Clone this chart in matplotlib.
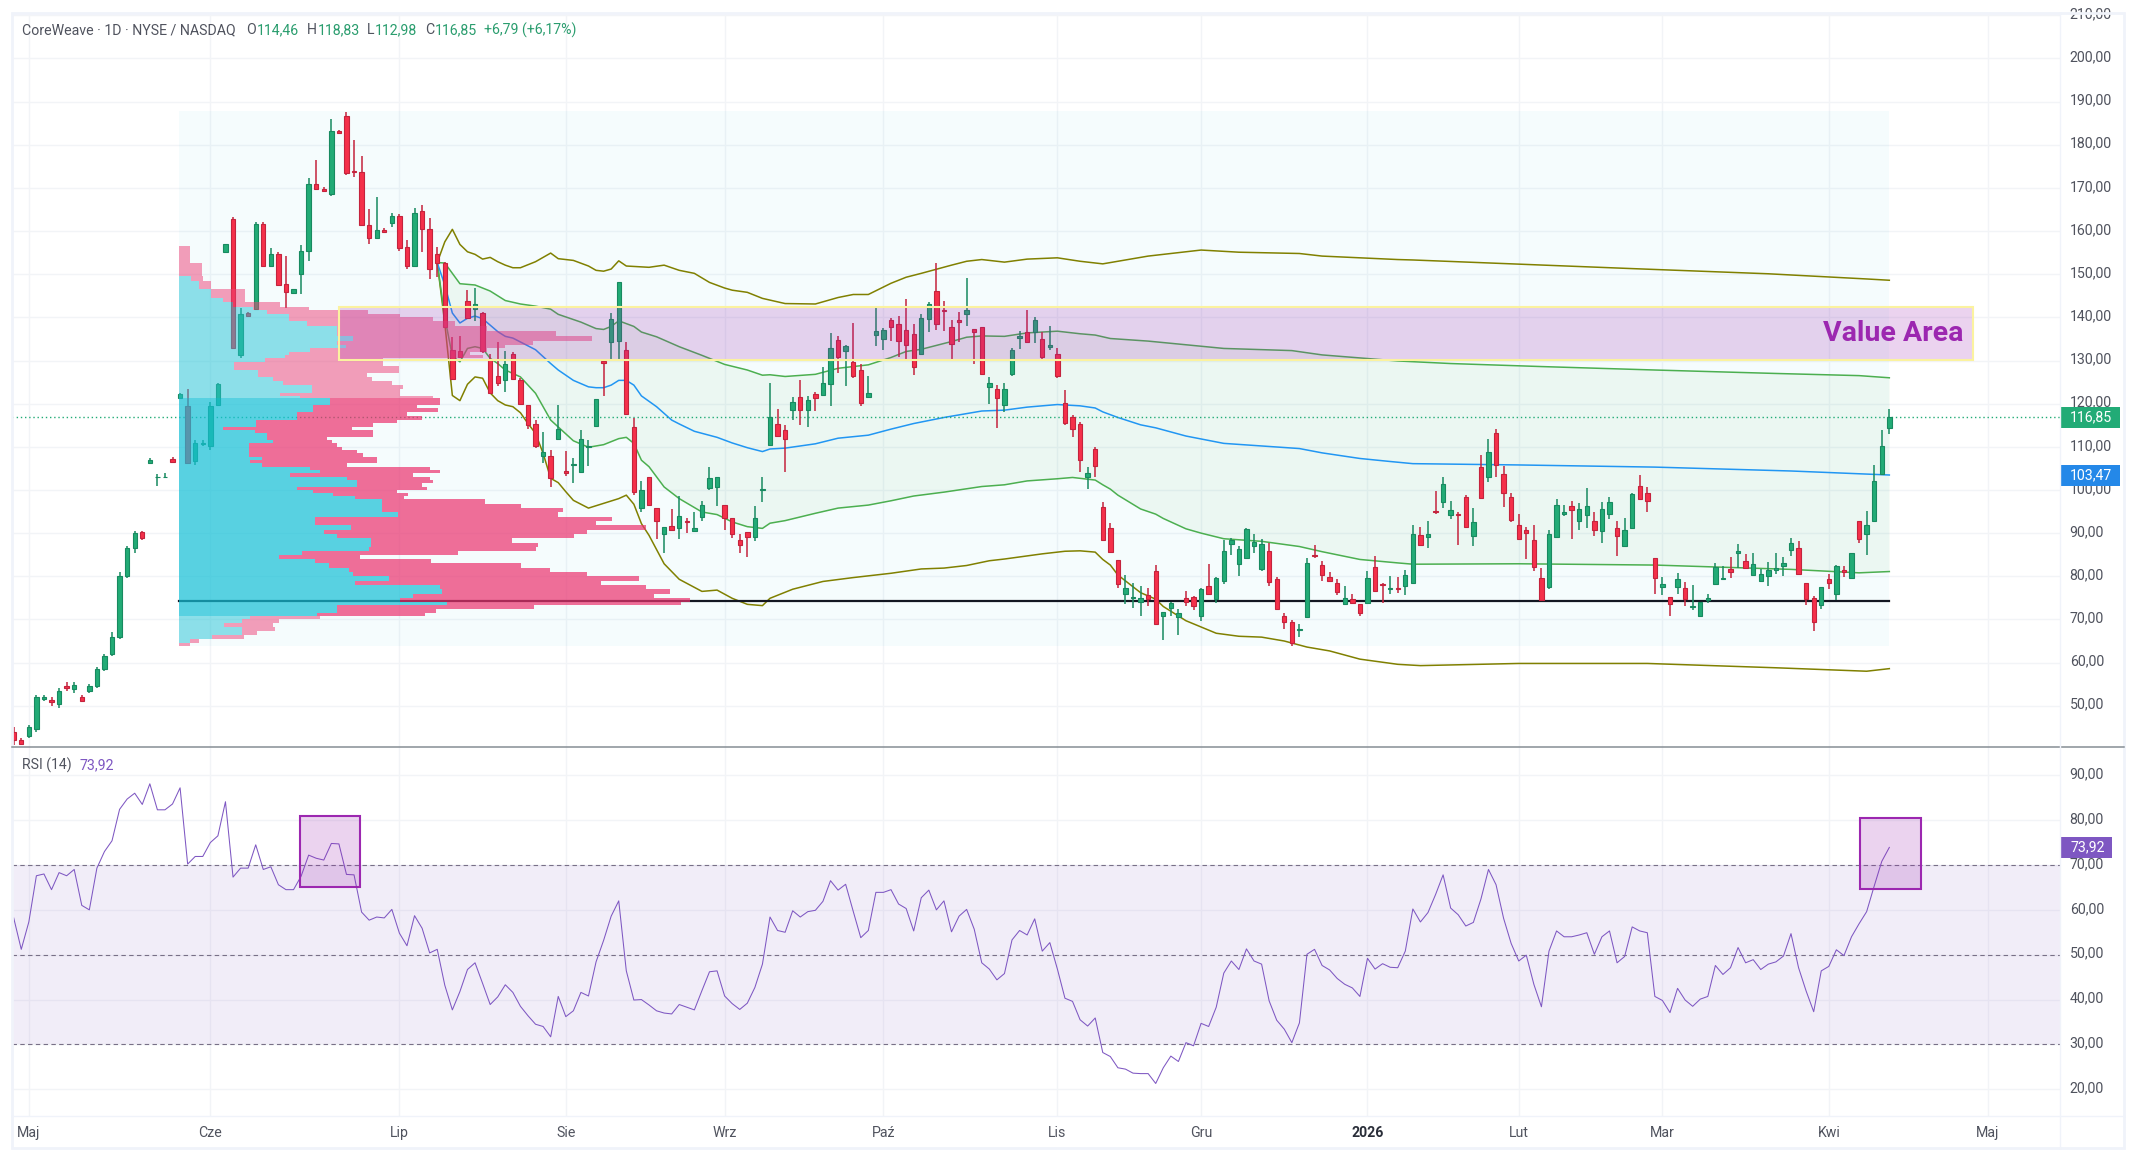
import numpy as np
import matplotlib
matplotlib.use('Agg')
import matplotlib.pyplot as plt
from matplotlib.patches import Rectangle
from matplotlib.lines import Line2D
from matplotlib.colors import to_rgba
from matplotlib.transforms import blended_transform_factory, ScaledTranslation

plt.rcParams['font.family'] = ['Roboto', 'DejaVu Sans']

# daily candles
opens = [44, 42, 43, 44.5, 51.5, 51.3, 50.5, 54.5, 53.8, 52,
         53.5, 54.5, 58.5, 62, 66, 80, 86.5, 90.3, 106.3, 102.9,
         102.9, 107.1, 121.2, 119.5, 106.8, 110.7, 110.3, 119.7, 155.2, 162.7,
         131.3, 140.9, 142, 161.6, 152, 154.7, 147.7, 145.7, 150.1, 155.4,
         171, 169.7, 168.6, 183.2, 186.6, 173.9, 173.6, 161.5, 158.5, 160.2,
         161.9, 163.6, 156.2, 152, 164.6, 160.4, 154.8, 152.5, 132.5, 132.1,
         143.7, 142, 141.1, 130.1, 126.5, 125.6, 131.6, 125.6, 119.6, 115.4,
         107.9, 107.8, 111.8, 104.3, 105.8, 104.2, 109.9, 114.9, 130, 134.4,
         134.6, 132.5, 114.5, 95.9, 102.9, 95.9, 89.7, 91.7, 91.1, 92.7,
         90.5, 93.8, 100.5, 100.7, 96.6, 93.6, 88.3, 90.2, 89, 100,
         110.5, 115.4, 113.8, 118.6, 121.5, 118.6, 122.2, 121.9, 124.5, 134.7,
         132.1, 129.6, 127.7, 121.5, 136, 135.1, 139.5, 138.4, 137, 136.1,
         131.6, 139.7, 146, 141.6, 137.7, 139.5, 140.8, 137.2, 137.7, 123.9,
         123.3, 119.8, 126.9, 135.3, 136.5, 136.7, 134.9, 133.2, 131.4, 120.1,
         116.8, 115.4, 102.9, 109.4, 96, 91.1, 83.7, 75.8, 75, 74,
         75.6, 81.2, 70.7, 72.7, 70.6, 74.9, 75.1, 70.7, 77.7, 74.8,
         78.8, 87.4, 82.8, 84.3, 87.1, 81.8, 85.8, 79.3, 70.7, 69.3,
         67.6, 70.5, 84.9, 82.5, 79.8, 78.4, 73.5, 74.7, 73.5, 73.7,
         82.1, 78.3, 77.1, 77.3, 77.8, 78.5, 89.5, 89.2, 95.1, 97.3,
         94.2, 94.4, 98.3, 89.4, 105.4, 103, 113.3, 103.8, 98.3, 91.8,
         90.8, 88.3, 79.7, 77.6, 89.2, 94.5, 96.2, 92.9, 94.2, 92.7,
         90.5, 94.5, 91.3, 87.1, 91.2, 101, 99.2, 84.2, 77.6, 75.1,
         77.6, 77.2, 72.9, 70.9, 74.4, 78.1, 79.4, 81.6, 85.3, 83.5,
         80.4, 78.8, 80, 81.5, 82.3, 86, 86.5, 78.4, 74.9, 73.3,
         79.3, 75.8, 81.4, 79.5, 92.7, 89.9, 92.9, 103.8, 114.46]
highs = [45, 42.5, 45.5, 52.5, 52.5, 52, 54, 55.5, 55.5, 52.5,
         55, 59, 62, 67, 81, 87, 90.5, 90.5, 107.5, 103.7,
         104, 107.7, 122.4, 123.3, 111.5, 111.6, 120.5, 124.8, 156.9, 163.2,
         142.1, 141.2, 162.2, 162, 156, 155.1, 154.2, 146.5, 156.8, 172.2,
         176.4, 170.2, 185.9, 183.4, 187.6, 181, 177.4, 165.1, 167.8, 160.7,
         164.2, 163.9, 157.9, 165.3, 166, 163, 156.3, 152.8, 135.4, 135.6,
         146.4, 146.7, 141.3, 131.6, 134.2, 132.3, 131.9, 125.9, 119.8, 116.3,
         113.4, 109.2, 119.6, 109, 107.5, 114, 111.5, 121, 130.2, 141.1,
         148.1, 134.4, 116.7, 102, 103.1, 95.9, 91.5, 95.7, 98.5, 93.4,
         94.8, 97.4, 105.4, 102.9, 96.6, 93.6, 89.8, 90.2, 96.2, 102.9,
         124.7, 118.8, 115, 121.5, 125.6, 121.8, 122.6, 128.6, 136.3, 135.6,
         133.6, 138.8, 129.1, 126.4, 142.6, 137.5, 139.8, 140.3, 144.2, 138.5,
         140.8, 143.6, 152.7, 143.8, 139.4, 141.2, 149.1, 137.2, 137.7, 126.2,
         124.3, 124.8, 133, 136.8, 141.6, 140.2, 136.5, 138.1, 132.9, 123.2,
         117.4, 115.7, 105.3, 110, 97.1, 92.4, 83.7, 80.3, 78.4, 77.8,
         77.4, 82.6, 71.7, 74.1, 72.4, 76.6, 75.4, 77.4, 82.9, 79.8,
         88.4, 88.9, 87, 91.2, 89.8, 88.6, 87.8, 79.8, 71.4, 69.9,
         68.9, 84.2, 87.2, 83.6, 80.9, 79.4, 77.8, 75.8, 73.5, 81.2,
         84.7, 78.4, 80, 79.8, 81.4, 91.9, 91.4, 92.9, 99.7, 102.9,
         97.4, 94.8, 98.8, 95.8, 108.2, 111.8, 114.1, 105.5, 99.2, 94.4,
         91.5, 91.9, 81.9, 90.7, 97.9, 96.5, 97.4, 97, 100.4, 94.9,
         97.2, 98.3, 92.8, 93.5, 99.3, 103.4, 100.7, 84.2, 79.8, 75.1,
         80.8, 78.7, 77.9, 74.1, 75.8, 83.1, 82.4, 84.4, 87.5, 85.2,
         85.4, 81.6, 83.3, 85.4, 84.4, 88.8, 88.2, 78.4, 75.4, 77.5,
         80.5, 82.6, 82.4, 85.3, 92.7, 95.1, 105.7, 114, 118.83]
lows = [41, 40.8, 42.5, 44, 51, 50, 49.5, 53.5, 53, 51,
        53, 54, 58, 61.5, 65.5, 79.5, 85.5, 88.5, 106, 101,
        102.8, 106.3, 121, 106, 105.9, 110.2, 109.3, 119.5, 155.2, 132.7,
        130.6, 140.4, 142, 152, 152, 147.6, 142.2, 145.7, 145.3, 153.1,
        169.5, 169.3, 168.2, 182.8, 173, 172.6, 161.5, 157, 158.5, 159.8,
        161, 155.4, 151.3, 151.7, 155.1, 149, 149.4, 137.5, 125.8, 130.8,
        139.9, 139.2, 131.8, 122.5, 124.1, 122.7, 125.4, 120, 114.1, 109.8,
        106.3, 100.7, 111.5, 103.2, 101.7, 104.2, 105.6, 114.9, 121.8, 130.3,
        130.3, 117.6, 98.8, 94.9, 96.6, 88.7, 85.4, 90.8, 88.7, 90.1,
        90.3, 92.8, 100, 96.3, 90.7, 88.9, 85.4, 84.5, 88.2, 97.3,
        110.5, 112.4, 104.2, 116.3, 115.1, 114.7, 118.4, 121.9, 119.5, 127.1,
        124.2, 126, 119.5, 121.5, 133.4, 132.5, 134.6, 130.9, 130.1, 126.6,
        131.6, 136.7, 137.1, 136.9, 130.3, 134.4, 138.1, 129.3, 126.9, 120,
        114.4, 118.1, 126.5, 132.7, 134.4, 134.1, 130.3, 132.4, 126, 115,
        112.3, 104.2, 100.3, 103, 88.3, 85.6, 77.4, 73.6, 72.7, 70.9,
        73, 69, 65.3, 70.9, 66.3, 73, 72.3, 69.7, 76, 73.7,
        78.1, 85, 80.1, 84.1, 85.5, 81.3, 77.8, 72.4, 67.9, 63.9,
        66, 70.5, 84.3, 79, 78.8, 75.7, 73.5, 73.9, 70.7, 73.7,
        76.7, 73.9, 75.9, 76.2, 75.6, 78.5, 87, 86.6, 94.4, 95.8,
        93.3, 87.2, 91.5, 87.1, 98.2, 101.9, 103, 96, 92.6, 88.7,
        84, 81.2, 74.6, 77.1, 89.2, 94, 88.6, 90.7, 91.2, 89.3,
        87.7, 93.2, 84.7, 87.1, 91.2, 98, 95, 76, 75.7, 70.7,
        76, 73.2, 72.3, 70.9, 73.9, 78.1, 79.1, 79.6, 81.9, 81.6,
        80.4, 78.8, 77.8, 80.5, 80.1, 84.8, 80.5, 73.4, 67.3, 72.5,
        77.1, 74.4, 79.8, 79.5, 87.7, 85, 92.9, 103.8, 112.98]
closes = [42, 41.2, 45, 52, 52, 50.8, 53.5, 54, 54.8, 51.2,
          54.5, 58.5, 61.5, 66, 80, 86.5, 90, 88.8, 107, 103.1,
          103.1, 106.5, 122.2, 106.3, 110.8, 110.9, 119.5, 124.5, 156.9, 133,
          140.7, 140.4, 161.6, 152, 154.6, 147.6, 145.9, 146.5, 155.3, 171,
          169.8, 169.3, 183.1, 182.8, 173.5, 173.7, 161.5, 158.5, 160.2, 159.8,
          163.6, 156.1, 152, 164.1, 160.5, 151.3, 152.7, 137.8, 125.8, 130.8,
          139.9, 143, 132.1, 122.5, 124.8, 129.3, 125.8, 120, 115.1, 110.2,
          108.7, 102.8, 114.2, 104, 106, 111.7, 110.1, 121, 129.5, 139.7,
          148.1, 117.6, 99.6, 99.9, 96.6, 92.9, 91.5, 90.8, 93.9, 92.5,
          91.3, 96.6, 102.7, 102.9, 93.4, 89.9, 87.3, 89, 93.4, 100.2,
          116.8, 112.4, 111.9, 120.3, 118.6, 120.8, 121.2, 124.7, 133, 130.7,
          133.3, 126.5, 120.2, 122.4, 136.8, 137, 137.8, 134.6, 133.7, 128.6,
          139.8, 143, 138.4, 141.5, 133.9, 139, 141.6, 136.7, 126.9, 124.9,
          121.4, 123.3, 132.4, 135.6, 134.4, 139.5, 130.9, 133.5, 126.3, 115.6,
          114.2, 106.9, 103.9, 105.6, 88.3, 85.6, 78.3, 77.2, 75.2, 74.9,
          74.8, 69, 71.7, 73.7, 71.4, 74.1, 73.2, 77, 76, 79.5,
          85.8, 88.4, 86.3, 90.9, 88, 87.4, 78.6, 72.4, 69.5, 64.5,
          67.8, 83, 84.7, 80.2, 78.8, 76.4, 74.9, 73.9, 71.6, 79.5,
          76.7, 77.9, 77.3, 77.1, 80.2, 89.9, 87.3, 89.7, 94.9, 101.3,
          95.3, 94.2, 91.5, 92.5, 98.2, 108.7, 105.8, 99.3, 93.1, 88.7,
          90.1, 82.2, 74.6, 89.9, 96.6, 95, 95.3, 95.7, 96.2, 90.8,
          95.5, 97.1, 89.4, 90.8, 99, 98, 97.5, 79.5, 78.1, 73.5,
          79.3, 74.8, 73.1, 74.1, 74.9, 82.1, 79.6, 81.1, 85.8, 82,
          82.8, 80.5, 81.4, 81.9, 83, 87.6, 80.5, 74.8, 69.3, 77.5,
          78.5, 82.3, 80.9, 85.3, 88.7, 91.8, 102, 110.1, 116.85]

rsi = [58.2, 51.2, 57.3, 67.6, 68, 64.5, 68.3, 67.6, 69, 61,
       60, 69.3, 73, 75.4, 82.4, 84.7, 86, 83.5, 88.1, 82.3,
       82.3, 83.6, 87.2, 70.2, 71.9, 71.9, 75, 76.5, 84.1, 67.3,
       69.3, 69.3, 74.5, 69, 69.6, 65.6, 64.5, 64.5, 67.5, 72.2,
       71.5, 71.1, 74.8, 74.7, 67.9, 67.8, 59.5, 57.7, 58.4, 58.2,
       60.1, 54.8, 52, 58.7, 55.9, 50.4, 51.2, 43.2, 37.7, 41.8,
       46.7, 48.2, 43.6, 38.9, 40.6, 43.3, 41.6, 38.5, 36.4, 34.5,
       34, 31.7, 40.7, 36.2, 37.5, 41.6, 40.8, 48.4, 53.2, 58.6,
       62, 46.4, 39.9, 40, 38.8, 37.5, 37, 36.8, 38.9, 38.3,
       37.7, 42, 46.2, 46.4, 40.8, 39.1, 37.8, 39.2, 42.7, 47.9,
       58.4, 55.4, 55, 59.8, 58.4, 59.6, 59.9, 61.9, 66.5, 64.4,
       65.7, 59.7, 53.8, 55.4, 63.9, 63.9, 64.5, 61.3, 60.3, 55.3,
       62.7, 64.4, 60, 62, 55.1, 58.6, 60.1, 55.7, 48.2, 46.8,
       44.4, 45.8, 53.3, 55.4, 54.4, 58, 50.8, 52.7, 46.8, 40.3,
       39.6, 35.5, 34.1, 35.9, 28.2, 27.3, 24.8, 24.5, 23.6, 23.5,
       23.5, 21.3, 24.8, 27.4, 26.2, 30.4, 29.7, 34.7, 34, 38.3,
       45.9, 48.6, 46.7, 51.3, 48.6, 47.9, 39.7, 35.4, 33.4, 30.4,
       34.8, 50.1, 51.2, 47.6, 46.6, 44.7, 43.4, 42.6, 40.7, 49.2,
       46.8, 48, 47.2, 47.1, 50.8, 60.2, 57.3, 59.4, 63.4, 67.8,
       60.4, 58.9, 56.4, 57.2, 62.4, 69, 65.6, 58.1, 52.5, 48.6,
       49.9, 43.4, 38.4, 50.8, 55.3, 54, 54, 54.4, 54.9, 50.1,
       54, 55.3, 48.2, 49.6, 56.2, 55.3, 54.9, 40.7, 39.8, 37.1,
       42.5, 39.9, 38.5, 40.1, 40.7, 47.6, 45.6, 47.1, 51.6, 48.2,
       48.9, 46.7, 47.9, 48.4, 49.7, 54.7, 47.1, 41.9, 37.3, 46.4,
       47.4, 51.1, 49.8, 54, 56.9, 59.6, 65.3, 70.8, 73.92]

# anchored vwap and its bands: bar number, value
vwap_bars = [56, 57, 58, 59, 60, 61, 62, 64, 65, 66, 68, 69, 71, 72, 74, 76, 77, 78, 79, 80,
             81, 82, 83, 85, 87, 88, 90, 93, 95, 97, 99, 100, 102, 106, 109, 113, 116, 119, 123, 128,
             131, 134, 138, 141, 143, 144, 146, 149, 151, 155, 160, 165, 170, 173, 178, 182, 185, 199, 217, 235, 248]
vwap = [152.7, 147.5, 141, 138.7, 139.8, 140.3, 139.7, 136.7, 135.6, 135.2, 133.4, 132.5, 129.3, 127.8, 125.4, 123.9, 123.7, 123.7, 124.3, 125.4,
        125.4, 124.3, 121.8, 119.3, 116.2, 115.3, 113.6, 112.2, 110.9, 109.8, 108.9, 109.5, 109.7, 110.7, 112, 112.7, 114.1, 115.4, 116.8, 118.3,
        118.5, 119.2, 119.8, 119.5, 119, 118.1, 116.8, 115.1, 114.4, 112.5, 110.8, 110.2, 109.6, 108.6, 107.3, 106.6, 106.1, 105.8, 105.3, 104.4, 103.47]
upper1_bars = [56, 57, 58, 59, 61, 63, 65, 67, 69, 71, 72, 75, 77, 78, 79, 80, 82, 83, 85, 88,
               91, 94, 97, 99, 100, 102, 106, 109, 113, 116, 118, 120, 124, 126, 128, 131, 134, 138, 141, 143,
               145, 150, 160, 169, 173, 183, 190, 202, 217, 233, 244, 248]
upper1 = [152.7, 152.6, 150.2, 147.8, 147.5, 146.1, 143.9, 143.1, 142.6, 141.9, 140.7, 138.9, 137.4, 137.2, 137.9, 139.2, 137.9, 136.6, 135.5, 133.2,
          131.2, 129.1, 127.8, 126.6, 126.7, 126.3, 126.8, 128.2, 129, 130.7, 132.1, 132.6, 134.4, 135.4, 135.7, 135.6, 136.4, 136.8, 136.2, 135.9,
          135.1, 134.5, 132.8, 132.3, 131.3, 129.9, 129.3, 128.6, 127.8, 127, 126.5, 126]
lower1_bars = [56, 57, 58, 59, 60, 61, 62, 63, 64, 65, 67, 69, 71, 72, 74, 76, 78, 80, 81, 82,
               83, 84, 86, 88, 91, 93, 95, 97, 99, 100, 102, 106, 109, 113, 116, 119, 123, 128, 131, 134,
               138, 140, 143, 144, 145, 146, 149, 151, 152, 155, 157, 160, 165, 170, 173, 178, 183, 185, 199, 217, 235, 244, 248]
lower1 = [152.7, 140, 131, 129.7, 132.8, 133.2, 132.8, 130.5, 129.3, 127.8, 126.2, 122.4, 116.2, 114.6, 111.4, 109.9, 110.5, 111.9, 112.2, 110.8,
          106.9, 105.4, 100.7, 98, 94.9, 94.3, 92.6, 91.5, 91.1, 92.3, 92.9, 94.6, 95.8, 96.5, 97.5, 98.6, 99.5, 100.8, 101.2, 102.1,
          102.6, 102.9, 102.3, 101.2, 100.2, 98.8, 95.6, 94.4, 93.4, 91, 90, 88.7, 88.1, 86.9, 85.7, 83.9, 83.1, 82.8, 82.9, 82.6, 81.6, 80.8, 81.1]
upper2_bars = [56, 57, 58, 59, 60, 61, 62, 63, 64, 65, 66, 67, 69, 71, 72, 74, 76, 77, 78, 79,
               80, 81, 84, 86, 88, 90, 92, 94, 95, 97, 99, 100, 102, 106, 109, 111, 113, 116, 118, 120,
               124, 126, 128, 131, 134, 138, 141, 144, 150, 157, 162, 170, 173, 183, 185, 214, 232, 245, 248]
upper2 = [152.7, 157.5, 160.4, 156.9, 155.2, 154.6, 153.5, 153.9, 152.9, 152.1, 151.5, 151.5, 152.9, 154.9, 153.6, 153.2, 151.9, 150.9, 150.7, 151.2,
          153.1, 151.9, 151.6, 152.1, 150.9, 150.2, 148.1, 146.8, 146.3, 145.8, 144.4, 144, 143.2, 143.1, 144.6, 145.3, 145.3, 147.9, 149.3, 150.2,
          152.1, 153, 153.4, 152.8, 153.5, 153.8, 153, 152.4, 154.2, 155.6, 155.1, 154.8, 154.2, 153.4, 153.3, 151.3, 150.1, 148.9, 148.6]
lower2_bars = [56, 57, 58, 59, 60, 61, 62, 63, 64, 65, 66, 67, 68, 69, 70, 71, 72, 73, 74, 76,
               78, 80, 81, 82, 83, 84, 86, 88, 91, 93, 95, 97, 99, 100, 103, 107, 111, 116, 120, 123,
               126, 129, 131, 136, 139, 141, 143, 144, 145, 146, 149, 151, 152, 155, 159, 162, 165, 168, 171, 174,
               178, 183, 186, 199, 216, 233, 245, 248]
lower2 = [152.7, 138.6, 121.9, 120.7, 124.5, 126.2, 125.9, 122.5, 120.7, 119.7, 119.3, 117.9, 115.4, 113.1, 108.5, 102.7, 101.7, 99.6, 97.6, 95.8,
          96.9, 98, 98.8, 96.7, 92.2, 89.5, 82.9, 79.3, 76.5, 76.8, 74.9, 73.5, 73.2, 74.9, 77, 78.8, 79.7, 80.7, 81.7, 81.9,
          82.5, 83.6, 84, 85.2, 85.8, 85.9, 85.6, 83.9, 82.6, 80.3, 76.2, 74.7, 73, 69.7, 66.8, 66.1, 65.9, 65, 63.6, 62.7,
          60.8, 59.6, 59.3, 59.8, 59.8, 58.8, 58, 58.6]

# volume profile rows: price level, up volume, up + down volume
vp_price = [156, 155, 154, 153, 152, 151, 150, 149, 148, 147, 146, 145, 144, 143, 142, 141.3, 140.4, 139.8, 138.6, 137.5,
            136.3, 135.1, 134, 133.2, 132.4, 131.7, 131, 130.1, 129.1, 128.2, 127.4, 126.6, 125.9, 124.7, 123.9, 122.8, 122, 121.6, 120.9, 120.1,
            119.3, 118.6, 117.6, 116.6, 115.8, 115.1, 114.3, 113.5, 112.7, 112, 111.2, 110.4, 109.6, 108.9, 108.1, 107.3, 106.5, 105.8, 105, 104.2,
            103.5, 102.7, 101.9, 101.2, 100.4, 99.6, 98.9, 98.3, 97.3, 96.3, 95.3, 94.3, 93.3, 92.3, 91.3, 90.3, 89.3, 88.3, 87.3, 86.3,
            85.3, 84.5, 83.5, 82.5, 81.5, 80.5, 79.5, 78.5, 77.5, 76.5, 75.5, 74.5, 73.5, 73, 72, 71, 70.5, 69.7, 68.8, 67.8,
            66.8, 65.8, 65, 64.2]
vp_up = [0, 0, 0, 0, 0, 0, 0, 12, 20, 20, 32, 32, 44, 54, 74, 88, 110, 110, 128, 158,
         158, 174, 158, 167, 131, 110, 106, 86, 55, 55, 79, 79, 94, 104, 133, 133, 101, 121, 151, 151,
         134, 134, 118, 118, 77, 77, 44, 76, 88, 88, 94, 70, 70, 70, 70, 83, 71, 83, 131, 141,
         111, 168, 178, 178, 118, 134, 154, 176, 203, 203, 203, 219, 136, 136, 172, 145, 158, 192, 192, 190,
         123, 100, 136, 150, 170, 174, 210, 176, 261, 263, 234, 221, 268, 158, 158, 138, 71, 63, 45, 63,
         63, 33, 11, 0]
vp_total = [11, 11, 11, 11, 23, 23, 23, 24, 32, 32, 66, 66, 66, 101, 130, 189, 221, 254, 276, 308,
            377, 413, 354, 326, 308, 291, 304, 204, 204, 220, 220, 188, 193, 213, 224, 221, 221, 254, 261, 261,
            238, 259, 228, 243, 218, 194, 173, 194, 194, 148, 153, 158, 163, 178, 184, 198, 198, 168, 251, 261,
            234, 251, 254, 243, 248, 218, 229, 225, 306, 342, 384, 379, 433, 417, 467, 408, 395, 333, 359, 357,
            279, 181, 252, 342, 371, 408, 460, 422, 467, 491, 475, 511, 502, 355, 257, 246, 141, 100, 94, 96,
            78, 65, 20, 11]

price_ticks = list(range(50, 220, 10))
rsi_ticks = list(range(20, 100, 10))
month_bars = [2, 26, 51, 73, 94, 115, 138, 157, 179, 199, 218, 240, 261]
month_labels = ['Maj', 'Cze', 'Lip', 'Sie', 'Wrz', 'Paź', 'Lis', 'Gru', '2026', 'Lut', 'Mar', 'Kwi', 'Maj']
poc_price = 74.3
value_area = (130.1, 142.5)
value_area_top = 121.3
value_area_bottom = 70.6

W, H = 2136, 1161
BAR = 7.563
X0 = 13.7
GRID = '#f2f4f7'
GREEN = '#22ab76'
GREEN_D = '#188a60'
RED = '#f5304a'
RED_D = '#c4233d'
TXT = '#50535e'
FS = 10.2


def px_axes(left, top, right, bottom):
    return fig.add_axes([left / W, 1 - bottom / H, (right - left) / W, (bottom - top) / H])


def bar_of(px):
    return (px - X0) / BAR


def last_label(ax, y, text, color, right=2120, h=21, unit=4.316):
    tr = blended_transform_factory(ax.transAxes, ax.transData)
    left = 1.0005
    width = (right - 2061) / 2048
    dy = h / unit
    ax.add_patch(Rectangle((left, y - dy / 2), width, dy, transform=tr, facecolor=color,
                           edgecolor='none', clip_on=False, zorder=20))
    ax.text(left + 9 / 2048, y, text, transform=tr, color='white', fontsize=FS, va='center',
            ha='left', clip_on=False, zorder=21)


fig = plt.figure(figsize=(W / 100, H / 100), dpi=100, facecolor='white')
ax = px_axes(12, 14, 2060, 747)
ax2 = px_axes(12, 747, 2060, 1116)
x_lim = (bar_of(12), bar_of(2060))

for a in (ax, ax2):
    a.set_xlim(*x_lim)
    a.set_xticks(month_bars)
    a.grid(True, color=GRID, linewidth=1)
    a.set_axisbelow(True)
    a.yaxis.tick_right()
    a.tick_params(axis='both', length=0, labelcolor=TXT, labelsize=FS)
    a.tick_params(axis='y', pad=7)
    for s in a.spines.values():
        s.set_visible(False)

# price pane
ax.set_ylim(40.44, 210.3)
ax.set_yticks(price_ticks)
ax.set_yticklabels(['%d,00' % t for t in price_ticks])
ax.tick_params(axis='x', labelbottom=False)

bars = np.arange(len(closes))
o, h, l, c = map(np.array, (opens, highs, lows, closes))
up = c >= o
vp_left = bar_of(179)
vp_right = bar_of(1889)

ax.add_patch(Rectangle((vp_left, 63.9), vp_right - vp_left, 187.8 - 63.9, facecolor='#00bcd4',
                       alpha=0.04, edgecolor='none', zorder=1))

common = np.union1d(upper1_bars, lower1_bars)
ax.fill_between(common, np.interp(common, upper1_bars, upper1), np.interp(common, lower1_bars, lower1),
                color='#4caf50', alpha=0.06, linewidth=0, zorder=1.2)

ax.plot(upper2_bars, upper2, color='#808000', lw=1.1, zorder=2)
ax.plot(lower2_bars, lower2, color='#808000', lw=1.1, zorder=2)
ax.plot(upper1_bars, upper1, color='#4caf50', lw=1.1, zorder=2)
ax.plot(lower1_bars, lower1, color='#4caf50', lw=1.1, zorder=2)
ax.plot(vwap_bars, vwap, color='#2196f3', lw=1.1, zorder=2)

ax.plot([vp_left, vp_right], [poc_price, poc_price], color='#131722', lw=1.6, zorder=2.2)
ax.axhline(closes[-1], color=GREEN, lw=1, ls=(0, (1, 2)), zorder=2.2)

# candles
ax.vlines(bars[up], l[up], h[up], color=GREEN_D, lw=1.1, zorder=3)
ax.vlines(bars[~up], l[~up], h[~up], color=RED_D, lw=1.1, zorder=3)
ax.bar(bars[up], (c - o)[up], bottom=o[up], width=0.58, color=GREEN, edgecolor=GREEN_D, linewidth=0.8, zorder=3.1)
ax.bar(bars[~up], (c - o)[~up], bottom=o[~up], width=0.58, color=RED, edgecolor=RED_D, linewidth=0.8, zorder=3.1)

# volume profile on top of the candles, rows touching each other
vp_p = np.array(vp_price)
vp_u = np.array(vp_up) / BAR
vp_t = np.array(vp_total) / BAR
mids = (vp_p[:-1] + vp_p[1:]) / 2
edges = np.concatenate(([vp_p[0] + 0.5], mids, [vp_p[-1] - 0.3]))
row_c = (edges[:-1] + edges[1:]) / 2
row_h = edges[:-1] - edges[1:]
inside = (vp_p <= value_area_top) & (vp_p >= value_area_bottom)
for mask, a_, blue, pink in ((inside, 0.7, '#15c0d6', '#ec326e'), (~inside, 0.5, '#24c4d6', '#ee4076')):
    ax.barh(row_c[mask], vp_u[mask], left=vp_left, height=row_h[mask], color=blue, alpha=a_,
            linewidth=0, antialiased=False, zorder=4)
    ax.barh(row_c[mask], (vp_t - vp_u)[mask], left=vp_left + vp_u[mask], height=row_h[mask], color=pink, alpha=a_,
            linewidth=0, antialiased=False, zorder=4)

# value area box
va_l, va_r = bar_of(339), bar_of(1973)
ax.add_patch(Rectangle((va_l, value_area[0]), va_r - va_l, value_area[1] - value_area[0],
                       facecolor=to_rgba('#9c27b0', 0.2), edgecolor='#fbf29f', linewidth=1.5, zorder=5))
ax.text(bar_of(1963), 136.2, 'Value Area', color='#9c27b0', fontsize=20.5, fontweight='bold',
        ha='right', va='center', zorder=6)

last_label(ax, closes[-1], '116,85', GREEN)
last_label(ax, vwap[-1], '103,47', '#2488e8')

# rsi pane
ax2.set_ylim(14.05, 96.3)
ax2.set_yticks(rsi_ticks)
ax2.set_yticklabels(['%d,00' % t for t in rsi_ticks])
ax2.set_xticklabels(month_labels)
ax2.tick_params(axis='x', pad=7)
ax2.get_xticklabels()[8].set_fontweight('bold')
ax2.get_xticklabels()[8].set_color('#2a2e39')
ax2.axhspan(30, 70, color='#7e57c2', alpha=0.1, linewidth=0, zorder=1)
for lvl in (30, 50, 70):
    ax2.axhline(lvl, color='#787087', lw=0.8, ls=(0, (4, 3)), zorder=1.5)
ax2.plot(bars, rsi, color='#7e57c2', lw=0.75, zorder=3)
for left_px, right_px, top, bottom in ((300, 360, 80.9, 65.1), (1860, 1921, 80.5, 64.7)):
    ax2.add_patch(Rectangle((bar_of(left_px), bottom), bar_of(right_px) - bar_of(left_px), top - bottom,
                            facecolor=to_rgba('#9c27b0', 0.2), edgecolor='#9c27b0', linewidth=1.5, zorder=4))
last_label(ax2, rsi[-1], '73,92', '#7e57c2', right=2112, unit=4.486)

# price labels sit a little above their gridlines
lift = ScaledTranslation(0, 2.5 / 72 * 0.72 * 1.0, fig.dpi_scale_trans)
for a in (ax, ax2):
    for lab in a.get_yticklabels():
        lab.set_transform(lab.get_transform() + lift)

# chart frame and pane separators
fig.add_artist(Rectangle((12 / W, 1 - 1148 / H), (2124 - 12) / W, (1148 - 13) / H, transform=fig.transFigure,
                         facecolor='none', edgecolor='#f0f3fa', linewidth=2))
fig.add_artist(Line2D([12 / W, 2124 / W], [1 - 747 / H] * 2, color='#868e94', lw=1.1))
fig.add_artist(Line2D([12 / W, 2124 / W], [1 - 1116 / H] * 2, color='#f0f3fa', lw=1))
fig.add_artist(Line2D([2060 / W, 2060 / W], [1 - 1148 / H, 1 - 13 / H], color='#f0f3fa', lw=1))

# header legend
HEAD_GREEN = '#2a9d6e'
head_parts = [(22, 'CoreWeave · 1D · NYSE / NASDAQ', TXT), (246, 'O', TXT), (257, '114,46', HEAD_GREEN),
              (307, 'H', TXT), (318, '118,83', HEAD_GREEN), (367, 'L', TXT), (375, '112,98', HEAD_GREEN),
              (425, 'C', TXT), (435, '116,85', HEAD_GREEN), (484, '+6,79 (+6,17%)', HEAD_GREEN)]
for px, s, col in head_parts:
    fig.text(px / W, 1 - 30 / H, s, color=col, fontsize=FS, va='center', ha='left')
fig.text(22 / W, 1 - 765 / H, 'RSI (14)', color=TXT, fontsize=FS, va='center', ha='left')
fig.text(80 / W, 1 - 765 / H, '73,92', color='#7e57c2', fontsize=FS, va='center', ha='left')

fig.savefig('out.png', dpi=100, facecolor='white')
